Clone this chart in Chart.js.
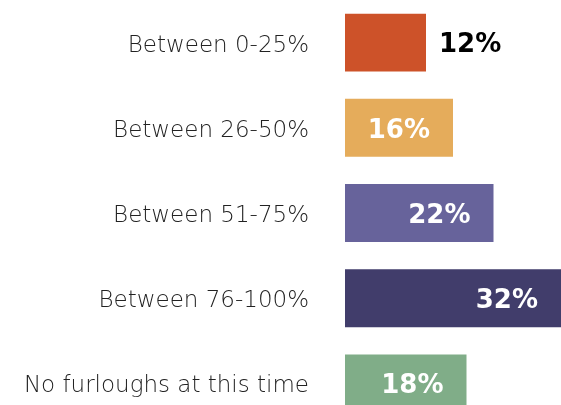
<!DOCTYPE html>
<html>
<head>
<meta charset="utf-8">
<script src="https://cdn.jsdelivr.net/npm/chart.js@4"></script>
<style>
  html, body { margin: 0; padding: 0; background: #ffffff; overflow: hidden; }
  #wrap { position: relative; width: 561px; height: 426px; }
</style>
</head>
<body>
<div id="wrap"><canvas id="c"></canvas></div>
<script>
const categories = ["Between 0-25%", "Between 26-50%", "Between 51-75%", "Between 76-100%", "No furloughs at this time"];
const values = [12, 16, 22, 32, 18];
const barColors = ["#CD5229", "#E5AC5B", "#67639B", "#413D6B", "#80AD88"];

const valueLabels = {
  id: "valueLabels",
  afterDatasetsDraw(chart) {
    const ctx = chart.ctx;
    const meta = chart.getDatasetMeta(0);
    ctx.save();
    ctx.font = "bold 26px 'DejaVu Sans'";
    ctx.textBaseline = "middle";
    meta.data.forEach((bar, i) => {
      const txt = values[i] + "%";
      const y = bar.y + 3;
      if (values[i] < 14) {
        ctx.fillStyle = "#000000";
        ctx.textAlign = "left";
        ctx.fillText(txt, bar.x + 13, y);
      } else {
        ctx.fillStyle = "#ffffff";
        ctx.textAlign = "right";
        ctx.fillText(txt, bar.x - 23, y);
      }
    });
    ctx.restore();
  }
};

new Chart(document.getElementById("c"), {
  type: "bar",
  data: {
    labels: categories,
    datasets: [{
      data: values,
      backgroundColor: barColors,
      borderWidth: 0,
      categoryPercentage: 1,
      barPercentage: 0.68
    }]
  },
  options: {
    indexAxis: "y",
    responsive: true,
    maintainAspectRatio: false,
    animation: false,
    layout: { padding: 0 },
    plugins: { legend: { display: false }, tooltip: { enabled: false } },
    scales: {
      x: { display: false, min: 0, max: 32 },
      y: {
        grid: { display: false, drawTicks: false },
        border: { display: false },
        ticks: {
          padding: 36,
          labelOffset: 3,
          color: "#222222",
          font: { family: "'DejaVu Sans'", size: 23, weight: 200 }
        },
        afterFit(scale) {
          scale.width = 345;
          scale.paddingTop = 0;
          scale.paddingBottom = 0;
        }
      }
    }
  },
  plugins: [valueLabels]
});
</script>
</body>
</html>
